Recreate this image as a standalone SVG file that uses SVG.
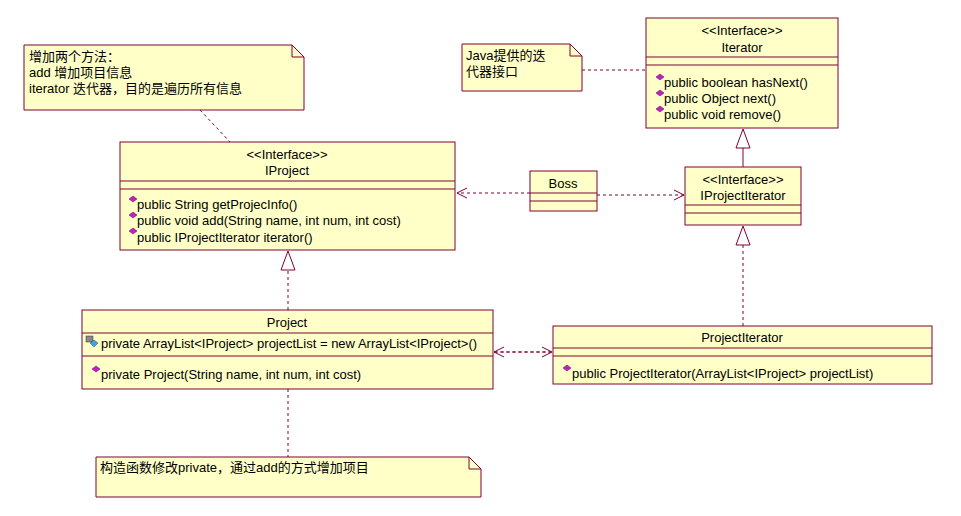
<svg xmlns="http://www.w3.org/2000/svg" width="961" height="516" viewBox="0 0 961 516">
<style>
.b{fill:#ffffc8;stroke:#800032;stroke-width:1}
.l{stroke:#800032;stroke-width:1;fill:none}
.d{stroke:#800032;stroke-width:1;fill:none;stroke-dasharray:3,3}
.t{font-family:"Liberation Sans","Noto Sans CJK SC",sans-serif;font-size:13px;fill:#000}
.m{fill:#c020c0;stroke:#600060;stroke-width:0.5}
</style>
<defs>
<marker id="o" markerWidth="12" markerHeight="12" refX="11" refY="6" orient="auto" markerUnits="userSpaceOnUse"><path d="M1,1 L11,6 L1,11" fill="none" stroke="#800032"/></marker>
</defs>
<rect width="961" height="516" fill="#fff"/>
<g id="connectors">
<path class="d" d="M200,110 L230,142"/>
<path class="d" d="M582,70 L646,70"/>
<path class="d" d="M530,193 L457,193" marker-end="url(#o)"/>
<path class="d" d="M597,195 L684,195" marker-end="url(#o)"/>
<path class="l" d="M743,167 V148"/><path d="M743,129 L750,148 L736,148 Z" fill="#fff" stroke="#800032"/>
<path class="d" d="M743,326 V245"/><path d="M743,226 L750,245 L736,245 Z" fill="#fff" stroke="#800032"/>
<path class="d" d="M288,310 V270"/><path d="M288,251 L295,270 L281,270 Z" fill="#fff" stroke="#800032"/>
<path class="d" d="M495,352 L552,352" marker-end="url(#o)"/>
<path class="d" d="M551,352 L494,352" marker-end="url(#o)"/>
<path class="d" d="M288,389 V457"/>
</g>
<g id="note1"><path class="b" d="M24,45 H292 L304,57 V110 H24 Z"/><path class="l" d="M292,45 V57 H304"/>
<text class="t" x="29" y="61">增加两个方法：</text><text class="t" x="29" y="77">add  增加项目信息</text><text class="t" x="29" y="93">iterator 迭代器，目的是遍历所有信息</text></g>
<g id="note2"><path class="b" d="M462,44 H570 L582,56 V91 H462 Z"/><path class="l" d="M570,44 V56 H582"/>
<text class="t" x="466" y="60">Java提供的迭</text><text class="t" x="466" y="76">代器接口</text></g>
<g id="note3"><path class="b" d="M96,457 H469 L481,469 V497 H96 Z"/><path class="l" d="M469,457 V469 H481"/>
<text class="t" x="100" y="472">构造函数修改private，通过add的方式增加项目</text></g>
<g id="Iterator"><rect class="b" x="646" y="18" width="192" height="110"/><path class="l" d="M646,57 H838 M646,65 H838"/>
<text class="t" x="742" y="35" text-anchor="middle">&lt;&lt;Interface&gt;&gt;</text><text class="t" x="742" y="52" text-anchor="middle">Iterator</text>
<path class="m" d="M660,74 l4,3 l-4,3 l-4,-3 Z"/><text class="t" x="664" y="87">public boolean hasNext()</text>
<path class="m" d="M660,90 l4,3 l-4,3 l-4,-3 Z"/><text class="t" x="664" y="103">public Object next()</text>
<path class="m" d="M660,106 l4,3 l-4,3 l-4,-3 Z"/><text class="t" x="664" y="119">public void remove()</text></g>
<g id="IProject"><rect class="b" x="120" y="142" width="335" height="108"/><path class="l" d="M120,181 H455 M120,189 H455"/>
<text class="t" x="287" y="159" text-anchor="middle">&lt;&lt;Interface&gt;&gt;</text><text class="t" x="287" y="175" text-anchor="middle">IProject</text>
<path class="m" d="M133,196 l4,3 l-4,3 l-4,-3 Z"/><text class="t" x="137" y="209">public String getProjecInfo()</text>
<path class="m" d="M133,212 l4,3 l-4,3 l-4,-3 Z"/><text class="t" x="137" y="225">public void add(String name, int num, int cost)</text>
<path class="m" d="M133,228 l4,3 l-4,3 l-4,-3 Z"/><text class="t" x="137" y="242">public IProjectIterator iterator()</text></g>
<g id="Boss"><rect class="b" x="530" y="171" width="67" height="40"/><path class="l" d="M530,193 H597 M530,201 H597"/>
<text class="t" x="563" y="188" text-anchor="middle">Boss</text></g>
<g id="IProjectIterator"><rect class="b" x="685" y="167" width="116" height="58"/><path class="l" d="M685,205 H801 M685,213 H801"/>
<text class="t" x="743" y="184" text-anchor="middle">&lt;&lt;Interface&gt;&gt;</text><text class="t" x="743" y="200" text-anchor="middle">IProjectIterator</text></g>
<g id="Project"><rect class="b" x="82" y="310" width="411" height="79"/><path class="l" d="M82,333 H493 M82,356 H493"/>
<text class="t" x="287" y="327" text-anchor="middle">Project</text>
<rect x="86" y="336" width="7" height="6" fill="#888" stroke="#333" stroke-width="0.5"/><path d="M94,340 l4,3 l-4,4 l-4,-4 Z" fill="#40a0e0" stroke="#205080" stroke-width="0.5"/>
<text class="t" x="101" y="348">private ArrayList&lt;IProject&gt; projectList = new ArrayList&lt;IProject&gt;()</text>
<path class="m" d="M96,366 l4,3 l-4,3 l-4,-3 Z"/><text class="t" x="101" y="379">private Project(String name, int num, int cost)</text></g>
<g id="ProjectIterator"><rect class="b" x="553" y="326" width="379" height="58"/><path class="l" d="M553,348 H932 M553,356 H932"/>
<text class="t" x="742" y="342" text-anchor="middle">ProjectIterator</text>
<path class="m" d="M567,365 l4,3 l-4,3 l-4,-3 Z"/><text class="t" x="572" y="378">public ProjectIterator(ArrayList&lt;IProject&gt; projectList)</text></g>
</svg>
